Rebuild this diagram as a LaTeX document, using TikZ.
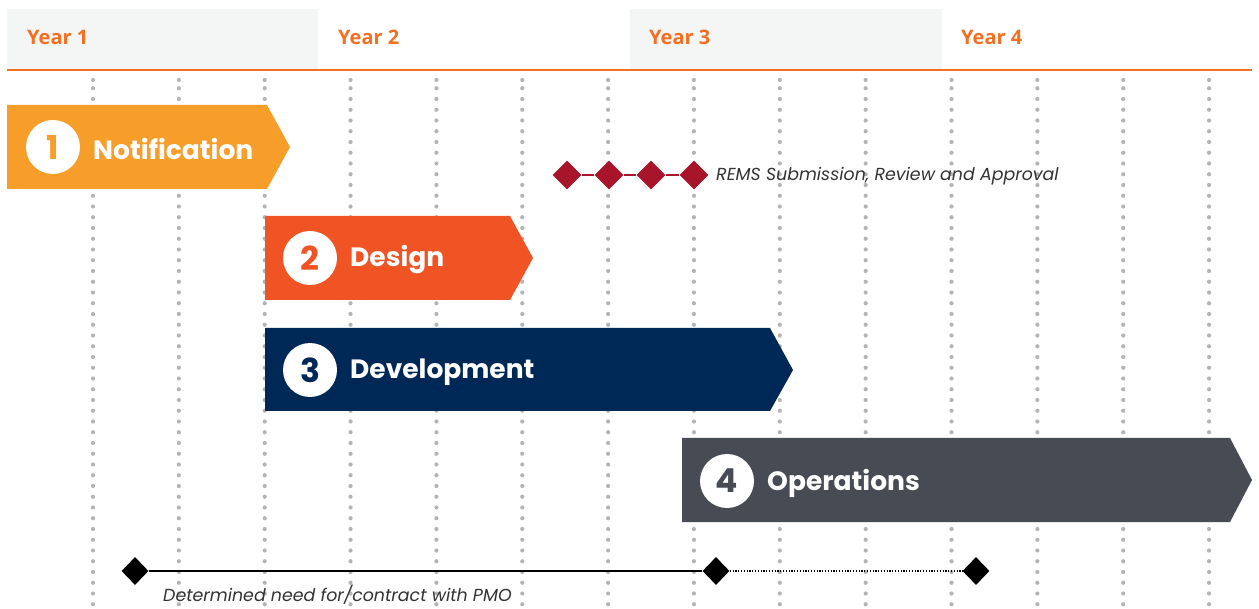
\documentclass[tikz,border=0pt]{standalone}
\usepackage{fontspec}
\setmainfont{Poppins}
\newfontfamily\yearfont{Open Sans}
\usetikzlibrary{shapes.geometric}
\definecolor{hdrgray}{HTML}{F4F5F5}
\definecolor{yearorange}{HTML}{F36F21}
\definecolor{notifc}{HTML}{F79E2A}
\definecolor{designc}{HTML}{F05324}
\definecolor{devc}{HTML}{002856}
\definecolor{opsc}{HTML}{474B54}
\definecolor{dotgray}{HTML}{B3B4B5}
\definecolor{remsred}{HTML}{A8152B}
\definecolor{notegray}{HTML}{333333}
\tikzset{
  yearlbl/.style={anchor=base west, inner sep=0pt, text=yearorange, font=\yearfont\bfseries\fontsize{20}{24}\selectfont},
  numcircle/.style={circle, fill=white, minimum size=54pt, inner sep=0pt, font=\bfseries\fontsize{33}{34}\selectfont},
  barlbl/.style={anchor=west, inner sep=0pt, text=white, font=\bfseries\fontsize{26.5}{28}\selectfont},
  remsdia/.style={diamond, fill=remsred, minimum width=29pt, minimum height=29pt, inner sep=0pt, aspect=1},
  blackdia/.style={diamond, fill=black, minimum width=27pt, minimum height=28pt, inner sep=0pt, aspect=1},
  notelbl/.style={anchor=west, inner sep=0pt, text=notegray, font=\itshape\fontsize{17.4}{20}\selectfont},
}
\begin{document}
\begin{tikzpicture}[x=1pt,y=-1pt]
\useasboundingbox (0,0) rectangle (1259,609);
\fill[white] (0,0) rectangle (1259,609);
% header
\fill[hdrgray] (7,9) rectangle (318,70);
\fill[hdrgray] (630,9) rectangle (942,70);
\node[yearlbl] (y1) at (27,45) {Year 1};
\node[yearlbl] (y2) at (338,45) {Year 2};
\node[yearlbl] (y3) at (649,45) {Year 3};
\node[yearlbl] (y4) at (961,45) {Year 4};
\draw[yearorange, line width=2.5pt] (7,70) -- (1252,70);
% dotted grid
\foreach \k in {0,...,13}{
  \fill[dotgray] (93+85.85*\k,80) circle (2.1);
  \foreach \j in {0,...,48}{
    \fill[dotgray] (93+85.85*\k,88.25+10.75*\j) circle (2.1);
  }
}
% bars
\fill[notifc] (7,105) -- (267,105) -- (290,147) -- (267,189) -- (7,189) -- cycle;
\node[numcircle, text=notifc] (c1) at (53,147) {1};
\node[barlbl] (t1) at (93,149) {Notification};

\fill[designc] (265,216) -- (510,216) -- (533,258) -- (510,300) -- (265,300) -- cycle;
\node[numcircle, text=designc] (c2) at (310,258) {2};
\node[barlbl] (t2) at (350,260) {Design};

\fill[devc] (265,328) -- (770,328) -- (793,370) -- (770,411) -- (265,411) -- cycle;
\node[numcircle, text=devc] (c3) at (310,370) {3};
\node[barlbl] (t3) at (350,372) {Development};

\fill[opsc] (682,438) -- (1230,438) -- (1252,480) -- (1230,522) -- (682,522) -- cycle;
\node[numcircle, text=opsc] (c4) at (727,481) {4};
\node[barlbl] (t4) at (767,483) {Operations};

% REMS milestones
\node[remsdia] (r1) at (567,175) {};
\node[remsdia] (r2) at (609,175) {};
\node[remsdia] (r3) at (651,175) {};
\node[remsdia] (r4) at (694,175) {};
\draw[remsred, line width=2.2pt] (r1) -- (r2) -- (r3) -- (r4);
\node[notelbl] (rt) at (716,176) {REMS Submission, Review and Approval};

% PMO line
\node[blackdia] (p1) at (135,571) {};
\node[blackdia] (p2) at (716,571) {};
\node[blackdia] (p3) at (976,571) {};
\draw[black, line width=2.5pt] (p1) -- (p2);
\draw[black, line width=1.5pt, dash pattern=on 1.2pt off 1.6pt] (p2) -- (p3);
\node[notelbl] (pt) at (163,595) {Determined need for/contract with PMO};
\end{tikzpicture}
\end{document}
